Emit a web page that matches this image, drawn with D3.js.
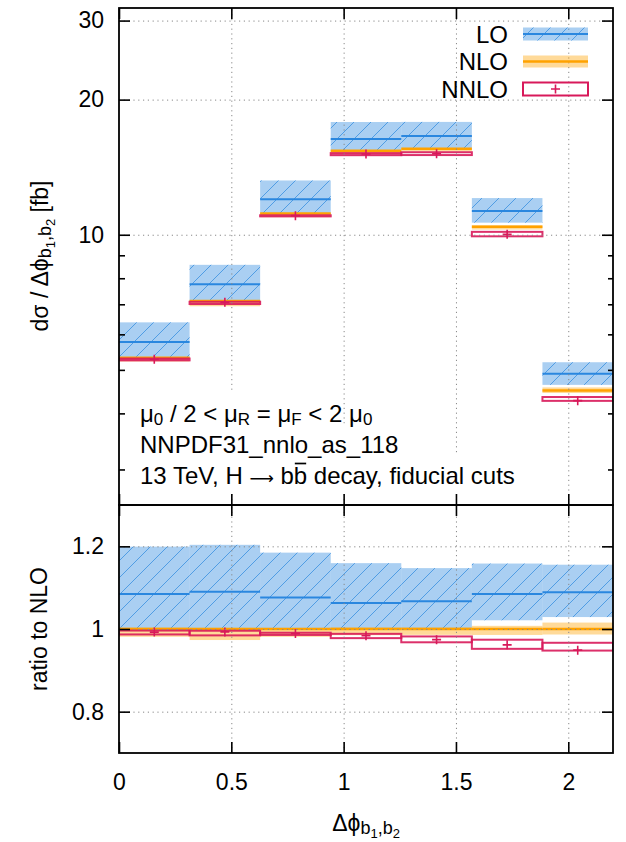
<!DOCTYPE html>
<html>
<head>
<meta charset="utf-8">
<script src="https://cdn.jsdelivr.net/npm/d3@7"></script>
<style>
  html, body { margin: 0; padding: 0; background: #fff; }
  svg { display: block; font-family: "Liberation Sans", Arial, Helvetica, sans-serif; }
</style>
</head>
<body>
<svg id="chart" width="626" height="842"></svg>
<script>
// Δφ(b1,b2) bins: seven bins of width π/10
const binLow  = [0.0000, 0.3142, 0.6283, 0.9425, 1.2566, 1.5708, 1.8850];
const binHigh = [0.3142, 0.6283, 0.9425, 1.2566, 1.5708, 1.8850, 2.1991];

// dσ/dΔφ [fb]: central value and scale-variation envelope per order
const loVal   = [5.77, 7.76, 12.00, 16.35, 16.59, 11.30, 4.90];
const loMin   = [5.32, 7.11, 11.15, 15.38, 15.58, 10.64, 4.63];
const loMax   = [6.38, 8.57, 13.21, 17.83, 17.84, 12.07, 5.20];

const nloVal  = [5.32, 7.12, 11.15, 15.38, 15.55, 10.42, 4.50];
const nloMin  = [5.22, 6.93, 10.94, 15.15, 15.33, 10.27, 4.44];
const nloMax  = [5.34, 7.14, 11.18, 15.44, 15.61, 10.50, 4.57];

const nnloVal = [5.28, 7.07, 11.03, 15.13, 15.15, 10.02, 4.27];
const nnloMin = [5.25, 7.01, 10.99, 15.04, 15.05,  9.92, 4.265];
const nnloMax = [5.30, 7.09, 11.05, 15.20, 15.27, 10.15, 4.35];

// axis ticks
const xTicks      = [0, 0.5, 1, 1.5, 2];
const yTopTicks   = [10, 20, 30];
const yTopMinor   = [3, 4, 5, 6, 7, 8, 9];
const yRatioTicks = [0.8, 1, 1.2];

const legendNames = ["LO", "NLO", "NNLO"];

// ---------------------------------------------------------------
const L = 119, R = 613, T = 8, M = 505, B = 753;
const FS = 23, FS_TXT = 24;
const col = { lo: "#2a87df", nlo: "#ffa200", nnlo: "#d8195a" };

const svg = d3.select("#chart");
const x = d3.scaleLinear().domain([0, 2.1991]).range([L, R]);
const yTop = d3.scaleLog().domain([2.5, 32]).range([M, T]);
const yRat = d3.scaleLinear().domain([0.7, 1.3]).range([B, M]);

const defs = svg.append("defs");
const hatch = defs.append("pattern")
  .attr("id", "hatch").attr("patternUnits", "userSpaceOnUse")
  .attr("width", 17).attr("height", 17);
hatch.append("path")
  .attr("d", "M-4,4 L4,-4 M0,17 L17,0 M13,21 L21,13")
  .attr("stroke", col.lo).attr("stroke-width", 1).attr("stroke-opacity", 0.7);

defs.append("clipPath").attr("id", "clipTop")
  .append("rect").attr("x", L).attr("y", T).attr("width", R - L).attr("height", M - T);
defs.append("clipPath").attr("id", "clipRat")
  .append("rect").attr("x", L).attr("y", M).attr("width", R - L).attr("height", B - M);

const bins = d3.range(binLow.length);

function drawPanel(y, norm, clipId) {
  const g = svg.append("g").attr("clip-path", `url(#${clipId})`);
  const bx = i => x(binLow[i]);
  const bw = i => x(binHigh[i]) - x(binLow[i]);
  const band = (cls, lo, hi, fill, op) =>
    g.selectAll("rect." + cls).data(bins).join("rect").attr("class", cls)
      .attr("x", bx).attr("width", bw)
      .attr("y", i => y(hi[i] / norm(i)))
      .attr("height", i => y(lo[i] / norm(i)) - y(hi[i] / norm(i)))
      .attr("fill", fill).attr("fill-opacity", op);

  band("lo-fill", loMin, loMax, col.lo, 0.4);
  band("lo-hatch", loMin, loMax, "url(#hatch)", 1);
  band("nlo-fill", nloMin, nloMax, col.nlo, 0.4);

  const hline = (cls, vals, color, w) =>
    g.selectAll("line." + cls).data(bins).join("line").attr("class", cls)
      .attr("x1", bx).attr("x2", i => x(binHigh[i]))
      .attr("y1", i => y(vals[i] / norm(i))).attr("y2", i => y(vals[i] / norm(i)))
      .attr("stroke", color).attr("stroke-width", w);
  hline("lo-line", loVal, col.lo, 2);
  hline("nlo-line", nloVal, col.nlo, 2.5);

  g.selectAll("rect.nnlo-box").data(bins).join("rect").attr("class", "nnlo-box")
    .attr("x", bx).attr("width", bw)
    .attr("y", i => y(nnloMax[i] / norm(i)))
    .attr("height", i => y(nnloMin[i] / norm(i)) - y(nnloMax[i] / norm(i)))
    .attr("fill", "none").attr("stroke", col.nnlo).attr("stroke-width", 2).attr("stroke-opacity", 0.9);

  g.selectAll("path.nnlo-pt").data(bins).join("path").attr("class", "nnlo-pt")
    .attr("d", i => {
      const cx = x((binLow[i] + binHigh[i]) / 2), cy = y(nnloVal[i] / norm(i));
      return `M${cx - 4.5},${cy}H${cx + 4.5}M${cx},${cy - 4.5}V${cy + 4.5}`;
    })
    .attr("stroke", col.nnlo).attr("stroke-width", 1.6);
}

drawPanel(yTop, () => 1, "clipTop");
drawPanel(yRat, i => nloVal[i], "clipRat");

// dotted grid
function grid(axis, tr) {
  const g = svg.append("g").attr("transform", tr).call(axis);
  g.select(".domain").remove();
  g.selectAll("line").attr("stroke", "#888").attr("stroke-width", 1)
    .attr("stroke-dasharray", "1.2,3.6");
  return g;
}
grid(d3.axisBottom(x).tickValues(xTicks.slice(1)).tickSize(-(M - T)).tickFormat(""), `translate(0,${M})`);
grid(d3.axisBottom(x).tickValues(xTicks.slice(1)).tickSize(-(B - M)).tickFormat(""), `translate(0,${B})`);
grid(d3.axisLeft(yTop).tickValues(yTopTicks).tickSize(-(R - L)).tickFormat(""), `translate(${L},0)`);
grid(d3.axisLeft(yRat).tickValues(yRatioTicks).tickSize(-(R - L)).tickFormat(""), `translate(${L},0)`);

// information text block, each line on an opaque white strip
const infoX = 140, infoBase = 421.5, infoStep = 31;
const infoBoxRight = [300, 400, 520];
infoBoxRight.forEach((r, i) => {
  svg.append("rect")
    .attr("x", 130).attr("y", infoBase + i * infoStep - 29)
    .attr("width", r - 130).attr("height", 37)
    .attr("fill", "#fff");
});
const info = svg.append("g").attr("font-size", FS_TXT).attr("fill", "#000");
{
  const t = info.append("text").attr("x", infoX).attr("y", infoBase);
  const parts = [["μ", 0], ["0", 1], [" / 2 < μ", 0], ["R", 1], [" = μ", 0], ["F", 1], [" < 2 μ", 0], ["0", 1]];
  let level = 0;
  parts.forEach(([s, sub]) => {
    const ts = t.append("tspan").text(s);
    if (sub !== level) ts.attr("dy", sub ? 3.5 : -3.5);
    if (sub) ts.attr("font-size", 17);
    level = sub;
  });
}
info.append("text").attr("x", infoX).attr("y", infoBase + infoStep).text("NNPDF31_nnlo_as_118");
const line3 = info.append("text").attr("x", infoX).attr("y", infoBase + 2 * infoStep);
line3.append("tspan").text("13 TeV, H ");
line3.append("tspan").attr("font-family", '"DejaVu Sans", sans-serif').attr("font-size", 17).text("\u27F6");
line3.append("tspan").text(" bb decay, fiducial cuts");
{
  const e = line3.node().getExtentOfChar(13);
  info.append("line")
    .attr("x1", e.x + 1).attr("x2", e.x + e.width - 1)
    .attr("y1", infoBase + 2 * infoStep - 20).attr("y2", infoBase + 2 * infoStep - 20)
    .attr("stroke", "#000").attr("stroke-width", 1.7);
}

// legend
const leg = svg.append("g");
legendNames.forEach((name, i) => {
  const cy = 34 + i * 27.5, x0 = 523, x1 = 588;
  leg.append("text").attr("x", 508).attr("y", cy + 8.5).attr("text-anchor", "end")
    .attr("font-size", FS_TXT).text(name);
  if (i === 0) {
    leg.append("rect").attr("x", x0).attr("y", cy - 6.5).attr("width", x1 - x0).attr("height", 13)
      .attr("fill", col.lo).attr("fill-opacity", 0.4);
    leg.append("rect").attr("x", x0).attr("y", cy - 6.5).attr("width", x1 - x0).attr("height", 13)
      .attr("fill", "url(#hatch)");
    leg.append("line").attr("x1", x0).attr("x2", x1).attr("y1", cy).attr("y2", cy)
      .attr("stroke", col.lo).attr("stroke-width", 2);
  } else if (i === 1) {
    leg.append("rect").attr("x", x0).attr("y", cy - 6).attr("width", x1 - x0).attr("height", 12)
      .attr("fill", col.nlo).attr("fill-opacity", 0.4);
    leg.append("line").attr("x1", x0).attr("x2", x1).attr("y1", cy).attr("y2", cy)
      .attr("stroke", col.nlo).attr("stroke-width", 2.5);
  } else {
    leg.append("rect").attr("x", x0).attr("y", cy - 6.5).attr("width", x1 - x0).attr("height", 13)
      .attr("fill", "none").attr("stroke", col.nnlo).attr("stroke-width", 2);
    const cx = (x0 + x1) / 2;
    leg.append("path").attr("d", `M${cx - 4.5},${cy}H${cx + 4.5}M${cx},${cy - 4.5}V${cy + 4.5}`)
      .attr("stroke", col.nnlo).attr("stroke-width", 1.6);
  }
});

// axes: inward ticks on all four sides of both panels
function axis(a, tr) {
  const g = svg.append("g").attr("transform", tr).call(a);
  g.select(".domain").remove();
  g.selectAll("line").attr("stroke", "#000").attr("stroke-width", 1.6);
  g.selectAll("text").attr("font-size", FS).attr("fill", "#000")
    .attr("font-family", '"Liberation Sans", Arial, Helvetica, sans-serif');
  return g;
}
const fmt = d3.format("~g");
axis(d3.axisLeft(yTop).tickValues(yTopTicks).tickSize(-11).tickPadding(15).tickFormat(fmt), `translate(${L},0)`);
axis(d3.axisLeft(yTop).tickValues(yTopMinor).tickSize(-6).tickFormat(""), `translate(${L},0)`);
axis(d3.axisRight(yTop).tickValues(yTopTicks).tickSize(-11).tickFormat(""), `translate(${R},0)`);
axis(d3.axisRight(yTop).tickValues(yTopMinor).tickSize(-5).tickFormat(""), `translate(${R},0)`);
axis(d3.axisTop(x).tickValues(xTicks).tickSize(-11).tickFormat(""), `translate(0,${T})`);
axis(d3.axisBottom(x).tickValues(xTicks).tickSize(-11).tickFormat(""), `translate(0,${M})`);

axis(d3.axisLeft(yRat).tickValues(yRatioTicks).tickSize(-11).tickPadding(15).tickFormat(fmt), `translate(${L},0)`);
axis(d3.axisRight(yRat).tickValues(yRatioTicks).tickSize(-11).tickFormat(""), `translate(${R},0)`);
axis(d3.axisTop(x).tickValues(xTicks).tickSize(-11).tickFormat(""), `translate(0,${M})`);
axis(d3.axisBottom(x).tickValues(xTicks).tickSize(-11).tickPadding(21).tickFormat(fmt), `translate(0,${B})`);

// frames
[[T, M], [M, B]].forEach(([y0, y1]) => {
  svg.append("rect").attr("x", L).attr("y", y0).attr("width", R - L).attr("height", y1 - y0)
    .attr("fill", "none").attr("stroke", "#000").attr("stroke-width", 1.8);
});

// axis titles
function subLabel(t, main, after) {
  t.append("tspan").text(main);
  t.append("tspan").attr("dy", 3).attr("font-size", 18).text("b");
  t.append("tspan").attr("dy", 4).attr("font-size", 13).text("1");
  t.append("tspan").attr("dy", -4).attr("font-size", 18).text(",b");
  t.append("tspan").attr("dy", 4).attr("font-size", 13).text("2");
  if (after) t.append("tspan").attr("dy", -7).attr("font-size", FS).text(after);
}
const yt = svg.append("text").attr("transform", "translate(48,256) rotate(-90)")
  .attr("text-anchor", "middle").attr("font-size", FS);
subLabel(yt, "dσ / Δ\u03D5", " [fb]");

svg.append("text").attr("transform", "translate(47,629) rotate(-90)")
  .attr("text-anchor", "middle").attr("font-size", FS).text("ratio to NLO");

const xt = svg.append("text").attr("x", 366).attr("y", 831)
  .attr("text-anchor", "middle").attr("font-size", FS);
subLabel(xt, "Δ\u03D5", null);
</script>
</body>
</html>
